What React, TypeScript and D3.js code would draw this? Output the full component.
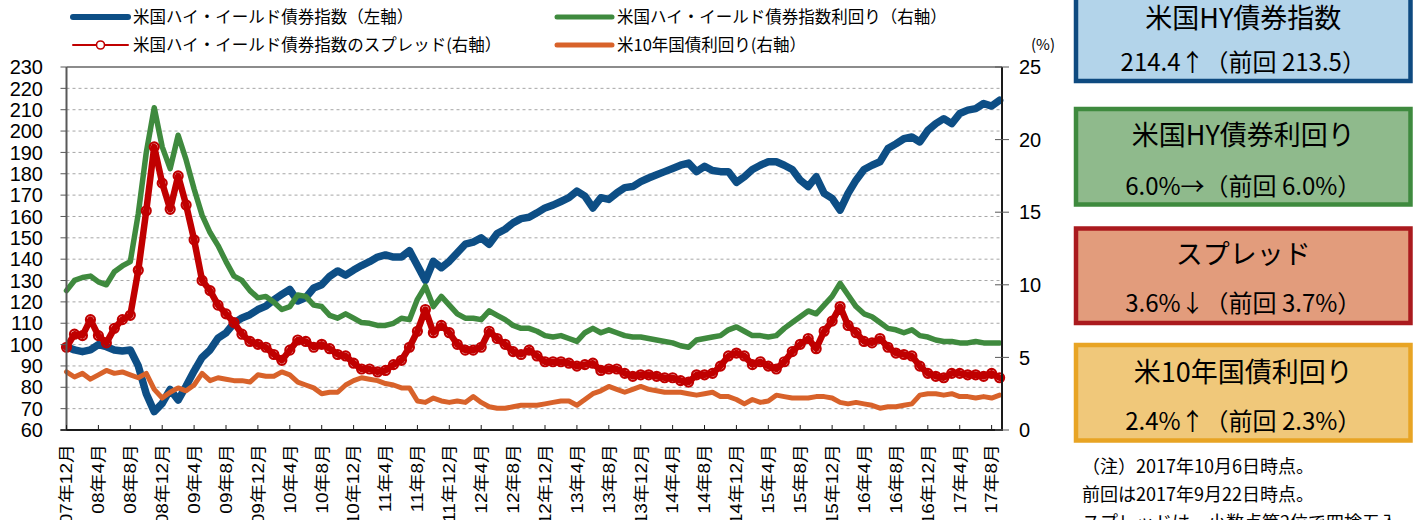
import React, { useEffect, useRef } from "react";
import * as d3 from "d3";

// monthly points, Dec 2007 .. Oct 2017 (index 0 = 07年12月)
const hyIndex = [
  99, 97.5, 96.7, 97.5, 100, 99, 97.5, 97, 97.5, 90,
  77, 68.6, 72.5, 79, 74, 80.6, 87.6, 94, 97.5, 103,
  105.5, 110, 112.5, 114, 116.4, 118, 121, 123.5, 125.8, 120.4,
  122, 126.5, 128, 132, 134.5, 132.5, 134.9, 137, 138.8, 141,
  142, 141, 141, 144, 137, 130, 139, 136, 139, 143,
  147, 148, 150, 147, 152, 154, 157, 159, 159.6, 161.7,
  164, 165.3, 167, 168.8, 171.9, 169.5, 164, 168.8, 168, 171,
  173.5, 174, 176.3, 178, 179.5, 181, 182.5, 184, 185, 181,
  183.5, 181.5, 181, 181, 176, 178.6, 182, 184, 185.6, 185.6,
  184, 182, 177, 174, 178.6, 170.8, 168.5, 163, 170.8, 177,
  182, 184, 185.6, 191.8, 194, 196.4, 197.2, 194.9, 200.3, 203.5,
  205.8, 203.5, 208.2, 209.8, 210.5, 212.9, 211.7, 214.4,
];

const hyYield = [
  9.6, 10.3, 10.5, 10.6, 10.2, 10.0, 10.9, 11.3, 11.6, 14.9,
  19.1, 22.2, 19.5, 18.0, 20.3, 18.6, 16.6, 14.8, 13.6, 12.7,
  11.6, 10.6, 10.3, 9.6, 9.1, 9.2, 8.8, 8.3, 8.5, 9.3,
  9.2, 8.6, 8.5, 7.9, 7.7, 8.0, 7.7, 7.4, 7.35, 7.2,
  7.2, 7.35, 7.7, 7.6, 9.0, 9.9, 8.5, 9.2, 8.6, 8.0,
  7.7, 7.7, 7.6, 8.2, 7.9, 7.6, 7.2, 7.0, 7.0, 6.8,
  6.5, 6.4, 6.5, 6.3, 6.1, 6.7, 7.0, 6.7, 6.9, 6.7,
  6.5, 6.4, 6.4, 6.3, 6.2, 6.1, 6.0, 5.8, 5.7, 6.2,
  6.3, 6.4, 6.5, 6.9, 7.1, 6.8, 6.5, 6.5, 6.4, 6.5,
  7.0, 7.4, 7.8, 8.2, 8.0, 8.6, 9.2, 10.1, 9.3, 8.5,
  8.0, 7.8, 7.4, 7.0, 6.9, 6.7, 6.9, 6.5, 6.4, 6.2,
  6.1, 6.1, 6.0, 6.0, 6.1, 6.0, 6.0, 6.0,
];

const hySpread = [
  5.7, 6.6, 6.5, 7.6, 6.5, 6.0, 7.0, 7.6, 7.9, 11.0,
  15.1, 19.5, 17.0, 15.2, 17.5, 15.5, 13.1, 10.3, 9.6, 8.6,
  8.0, 7.4, 6.6, 6.1, 5.9, 5.7, 5.2, 4.8, 5.5, 6.2,
  6.1, 5.7, 5.9, 5.6, 5.2, 5.1, 4.6, 4.2, 4.2, 4.0,
  4.1, 4.5, 4.8, 5.7, 6.8, 8.3, 6.7, 7.2, 6.7, 5.9,
  5.5, 5.5, 5.7, 6.8, 6.3, 5.9, 5.4, 5.2, 5.5, 5.1,
  4.7, 4.7, 4.7, 4.6, 4.4, 4.5, 4.6, 4.1, 4.2, 4.2,
  3.9, 3.7, 3.8, 3.8, 3.7, 3.6, 3.6, 3.4, 3.3, 3.8,
  3.8, 3.9, 4.4, 5.1, 5.3, 5.1, 4.5, 4.7, 4.4, 4.2,
  4.7, 5.4, 5.9, 6.3, 5.6, 6.8, 7.5, 8.5, 7.2, 6.7,
  6.1, 6.0, 6.3, 5.7, 5.3, 5.2, 5.1, 4.4, 3.9, 3.7,
  3.6, 3.9, 3.9, 3.8, 3.8, 3.7, 3.9, 3.6,
];

const ust10y = [
  4.0, 3.65, 3.9, 3.5, 3.8, 4.1, 3.9, 4.0, 3.8, 3.6,
  3.9, 2.8, 2.2, 2.6, 2.9, 2.7, 3.1, 3.9, 3.4, 3.6,
  3.5, 3.4, 3.4, 3.3, 3.8, 3.7, 3.7, 4.0, 3.8, 3.3,
  3.1, 2.9, 2.5, 2.6, 2.6, 3.1, 3.4, 3.6, 3.5, 3.4,
  3.2, 3.1, 2.9, 2.9, 2.0, 1.9, 2.2, 2.0, 1.9, 2.0,
  1.9, 2.3, 1.9, 1.6, 1.5, 1.5, 1.6, 1.7, 1.7, 1.7,
  1.8, 1.9, 2.0, 2.0, 1.7, 2.1, 2.5, 2.7, 3.0, 2.8,
  2.6, 2.8, 3.0, 2.8, 2.7, 2.6, 2.6, 2.6, 2.5, 2.4,
  2.5, 2.6, 2.3, 2.3, 2.1, 1.8, 2.1, 1.9, 2.0, 2.4,
  2.3, 2.2, 2.2, 2.2, 2.3, 2.3, 2.2, 1.9, 1.8, 1.9,
  1.8, 1.7, 1.5, 1.6, 1.6, 1.7, 1.8, 2.4, 2.5, 2.5,
  2.4, 2.5, 2.3, 2.3, 2.2, 2.3, 2.2, 2.4,
];

const xLabels = [
  "07年12月", "08年4月", "08年8月", "08年12月", "09年4月", "09年8月",
  "09年12月", "10年4月", "10年8月", "10年12月", "11年4月", "11年8月",
  "11年12月", "12年4月", "12年8月", "12年12月", "13年4月", "13年8月",
  "13年12月", "14年4月", "14年8月", "14年12月", "15年4月", "15年8月",
  "15年12月", "16年4月", "16年8月", "16年12月", "17年4月", "17年8月",
];

const leftTicks = [60, 70, 80, 90, 100, 110, 120, 130, 140, 150, 160, 170, 180, 190, 200, 210, 220, 230];
const rightTicks = [0, 5, 10, 15, 20, 25];

const legendNames = [
  "米国ハイ・イールド債券指数（左軸）",
  "米国ハイ・イールド債券指数利回り（右軸）",
  "米国ハイ・イールド債券指数のスプレッド(右軸）",
  "米10年国債利回り(右軸）",
];

const boxTitles = ["米国HY債券指数", "米国HY債券利回り", "スプレッド", "米10年国債利回り"];
const boxValues = [
  "214.4↑（前回 213.5）",
  "6.0%→（前回 6.0%）",
  "3.6%↓（前回 3.7%）",
  "2.4%↑（前回 2.3%）",
];
const notes = [
  "（注）2017年10月6日時点。",
  "前回は2017年9月22日時点。",
  "スプレッドは、小数点第2位で四捨五入。",
];

const BLUE = "#0d4e85";
const GREEN = "#3f8a3e";
const RED = "#c00000";
const ORANGE = "#d8622a";

const App: React.FC = () => {
  const svgRef = useRef<SVGSVGElement | null>(null);

  useEffect(() => {
    if (!svgRef.current) return;
    const svg = d3.select(svgRef.current);
    svg.selectAll("*").remove();

    const left = 66.5;
    const right = 1002;
    const top = 67;
    const bottom = 430;
    const numFont = "'Liberation Sans', Arial, 'Noto Sans CJK JP', sans-serif";
    const jpFont = "'Noto Sans CJK JP', sans-serif";

    const x = d3.scaleLinear().domain([0, 117]).range([left, 999.6]);
    const yL = d3.scaleLinear().domain([60, 230]).range([bottom, top]);
    const yR = d3.scaleLinear().domain([0, 25]).range([bottom, top]);

    // gridlines
    svg
      .append("g")
      .selectAll("line")
      .data(leftTicks.filter((v) => v > 60 && v < 230))
      .join("line")
      .attr("x1", left)
      .attr("x2", right)
      .attr("y1", (d) => yL(d))
      .attr("y2", (d) => yL(d))
      .attr("stroke", "#a6a6a6")
      .attr("stroke-width", 1)
      .attr("stroke-dasharray", "3,3");

    // series
    const lineL = d3
      .line<number>()
      .x((_, i) => x(i))
      .y((d) => yL(d));
    const lineR = d3
      .line<number>()
      .x((_, i) => x(i))
      .y((d) => yR(d));

    const series = svg.append("g").attr("stroke-linejoin", "round").attr("stroke-linecap", "round").attr("fill", "none");
    series.append("path").attr("d", lineL(hyIndex)).attr("stroke", BLUE).attr("stroke-width", 7.5);
    series.append("path").attr("d", lineR(hyYield)).attr("stroke", GREEN).attr("stroke-width", 5.5);
    series.append("path").attr("d", lineR(hySpread)).attr("stroke", RED).attr("stroke-width", 6.5);
    series
      .append("g")
      .selectAll("circle")
      .data(hySpread)
      .join("circle")
      .attr("cx", (_, i) => x(i))
      .attr("cy", (d) => yR(d))
      .attr("r", 4.5)
      .attr("fill", "none")
      .attr("stroke", RED)
      .attr("stroke-width", 2.2);
    series.append("path").attr("d", lineR(ust10y)).attr("stroke", ORANGE).attr("stroke-width", 5);

    // frame
    svg.append("line").attr("x1", left).attr("x2", right).attr("y1", top).attr("y2", top).attr("stroke", "#8c8c8c").attr("stroke-width", 2);
    svg.append("line").attr("x1", left).attr("x2", left).attr("y1", top).attr("y2", bottom).attr("stroke", "#595959").attr("stroke-width", 2);
    svg.append("line").attr("x1", right).attr("x2", right).attr("y1", top).attr("y2", bottom + 1).attr("stroke", "#1a1a1a").attr("stroke-width", 2);
    svg.append("line").attr("x1", left - 6).attr("x2", right + 1).attr("y1", bottom).attr("y2", bottom).attr("stroke", "#1a1a1a").attr("stroke-width", 2);

    // left axis
    const gl = svg.append("g");
    gl.selectAll("line")
      .data(leftTicks)
      .join("line")
      .attr("x1", left - 6)
      .attr("x2", left)
      .attr("y1", (d) => yL(d))
      .attr("y2", (d) => yL(d))
      .attr("stroke", "#595959");
    gl.selectAll("text")
      .data(leftTicks)
      .join("text")
      .attr("x", 43)
      .attr("y", (d) => yL(d))
      .attr("dy", "0.36em")
      .attr("text-anchor", "end")
      .style("font-family", numFont)
      .style("font-size", "20px")
      .attr("fill", "#000")
      .text((d) => d);

    // right axis
    const gr = svg.append("g");
    gr.selectAll("line")
      .data(rightTicks)
      .join("line")
      .attr("x1", right - 7)
      .attr("x2", right + 7)
      .attr("y1", (d) => yR(d))
      .attr("y2", (d) => yR(d))
      .attr("stroke", "#595959");
    gr.selectAll("text")
      .data(rightTicks)
      .join("text")
      .attr("x", 1019)
      .attr("y", (d) => yR(d))
      .attr("dy", "0.36em")
      .style("font-family", numFont)
      .style("font-size", "20px")
      .attr("fill", "#000")
      .text((d) => d);
    svg
      .append("text")
      .attr("x", 1031)
      .attr("y", 45)
      .attr("dy", "0.35em")
      .style("font-family", jpFont)
      .style("font-size", "15px")
      .text("(%)");

    // x axis
    const gx = svg.append("g");
    gx.selectAll("line")
      .data(xLabels)
      .join("line")
      .attr("x1", (_, i) => x(i * 4))
      .attr("x2", (_, i) => x(i * 4))
      .attr("y1", bottom - 5)
      .attr("y2", bottom)
      .attr("stroke", "#1a1a1a");
    gx.selectAll("text")
      .data(xLabels)
      .join("text")
      .attr("transform", (_, i) => `translate(${x(i * 4)},444) rotate(-90) scale(1,0.85)`)
      .attr("dy", "0.36em")
      .attr("text-anchor", "end")
      .style("font-family", numFont)
      .style("font-size", "19px")
      .attr("fill", "#000")
      .text((d) => d);

    // legend
    const lg = svg.append("g").style("font-family", jpFont).style("font-size", "16.5px");
    const legendPos = [
      { lx: 73, ly: 17, color: BLUE, w: 6 },
      { lx: 557, ly: 17, color: GREEN, w: 5 },
      { lx: 73, ly: 45, color: RED, w: 2 },
      { lx: 557, ly: 45, color: ORANGE, w: 5 },
    ];
    legendNames.forEach((name, i) => {
      const p = legendPos[i];
      lg.append("line")
        .attr("x1", p.lx)
        .attr("x2", p.lx + 55)
        .attr("y1", p.ly)
        .attr("y2", p.ly)
        .attr("stroke", p.color)
        .attr("stroke-width", p.w)
        .attr("stroke-linecap", "round");
      if (i === 2) {
        lg.append("circle")
          .attr("cx", p.lx + 27.5)
          .attr("cy", p.ly)
          .attr("r", 4)
          .attr("fill", "#fff")
          .attr("stroke", RED)
          .attr("stroke-width", 1.6);
      }
      lg.append("text")
        .attr("x", p.lx + 60)
        .attr("y", p.ly)
        .attr("dy", "0.36em")
        .attr("fill", "#000")
        .text(name);
    });

    // info boxes
    const boxStyle = [
      { y0: -5, y1: 81, fill: "#b3d4ea", stroke: "#0e4a80", ty: 18, vy: 62 },
      { y0: 109, y1: 204.5, fill: "#8fba8c", stroke: "#3e8a3e", ty: 135, vy: 186 },
      { y0: 228.5, y1: 323, fill: "#e29c7c", stroke: "#aa1a1e", ty: 254, vy: 303 },
      { y0: 345, y1: 440.5, fill: "#f0c87a", stroke: "#e8a424", ty: 372, vy: 421 },
    ];
    const bx0 = 1076;
    const bx1 = 1410.5;
    const bg = svg.append("g").style("font-family", jpFont);
    boxTitles.forEach((t, i) => {
      const b = boxStyle[i];
      bg.append("rect")
        .attr("x", bx0)
        .attr("y", b.y0)
        .attr("width", bx1 - bx0)
        .attr("height", b.y1 - b.y0)
        .attr("fill", b.fill)
        .attr("stroke", b.stroke)
        .attr("stroke-width", 4.5);
      bg.append("text")
        .attr("x", (bx0 + bx1) / 2)
        .attr("y", b.ty)
        .attr("dy", "0.36em")
        .attr("text-anchor", "middle")
        .style("font-size", "27px")
        .attr("fill", "#000")
        .text(t);
      bg.append("text")
        .attr("x", (bx0 + bx1) / 2)
        .attr("y", b.vy)
        .attr("dy", "0.36em")
        .attr("text-anchor", "middle")
        .style("font-size", "24px")
        .attr("fill", "#000")
        .text(boxValues[i]);
    });

    svg
      .append("g")
      .style("font-family", jpFont)
      .style("font-size", "18px")
      .selectAll("text")
      .data(notes)
      .join("text")
      .attr("x", 1082)
      .attr("y", (_, i) => 467 + i * 28)
      .attr("dy", "0.36em")
      .attr("fill", "#000")
      .text((d) => d);
  }, []);

  return (
    <svg
      ref={svgRef}
      width={1417}
      height={520}
      style={{ position: "absolute", left: 0, top: 0, background: "#fff" }}
    />
  );
};

export default App;
